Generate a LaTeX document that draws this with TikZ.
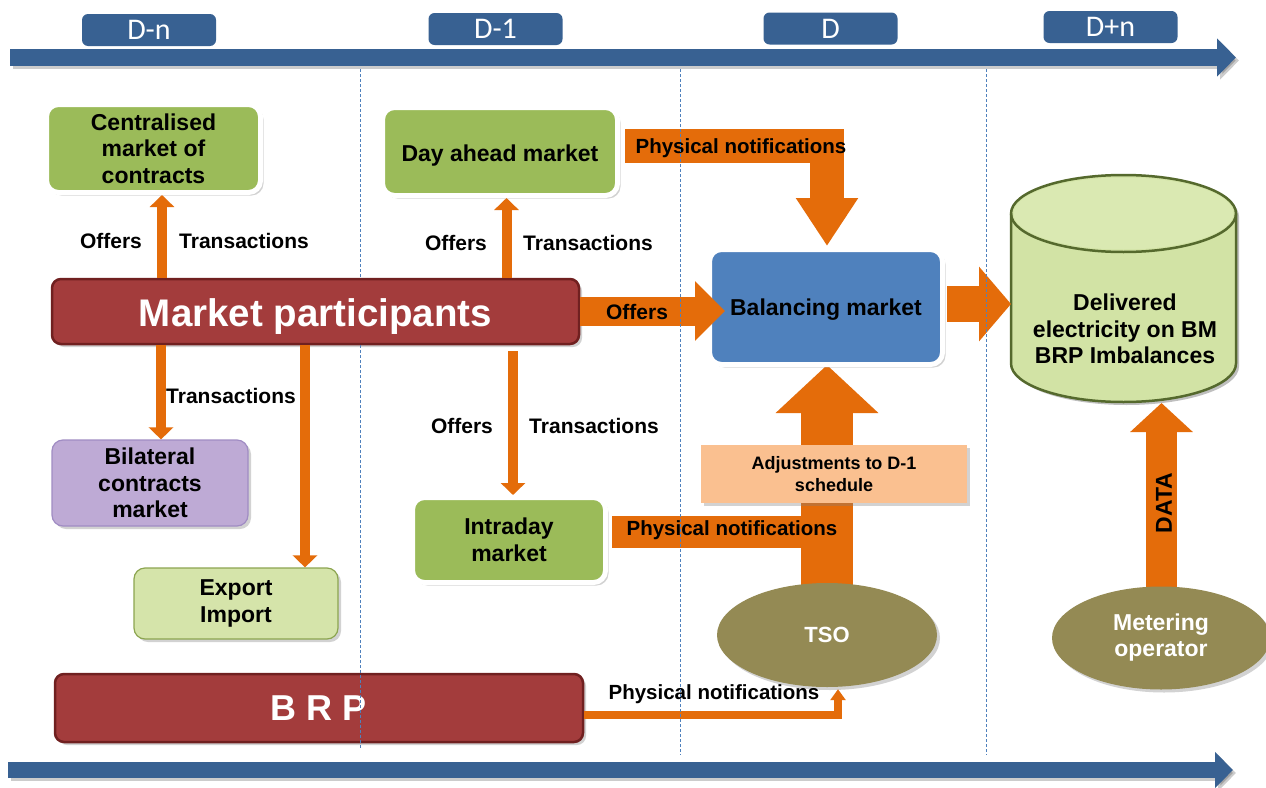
\documentclass[tikz,border=0pt]{standalone}
\usepackage{fontspec}
\setmainfont{Liberation Sans}
\newfontfamily\calfont{Carlito}
\usetikzlibrary{arrows.meta,shapes.geometric,shadows,calc}
\pgfdeclarelayer{bgw}
\pgfdeclarelayer{bg}
\pgfsetlayers{bgw,bg,main}
\definecolor{tlblue}{RGB}{56,97,146}
\definecolor{org}{RGB}{228,108,10}
\definecolor{grn}{RGB}{155,187,89}
\definecolor{mred}{RGB}{163,60,60}
\definecolor{mredd}{RGB}{112,32,32}
\definecolor{bblue}{RGB}{79,129,189}
\definecolor{lav}{RGB}{190,170,213}
\definecolor{lavd}{RGB}{160,140,195}
\definecolor{lgrn}{RGB}{213,228,170}
\definecolor{lgrnd}{RGB}{140,165,80}
\definecolor{cylf}{RGB}{210,227,165}
\definecolor{cyltop}{RGB}{218,233,178}
\definecolor{cyld}{RGB}{85,105,45}
\definecolor{peach}{RGB}{250,192,144}
\definecolor{olive}{RGB}{148,138,84}
\definecolor{dashc}{RGB}{79,129,189}
\newcommand\boxfont{\fontsize{23}{26.5}\selectfont\bfseries}
\newcommand\lblfont{\fontsize{21}{24}\selectfont\bfseries}
\newcommand\lowtext[2]{\raisebox{-#1}[\height][\depth]{#2}}
\begin{document}
\begin{tikzpicture}[x=1pt,y=-1pt,
 tlbox/.style={fill=tlblue, rounded corners=6pt, minimum width=134pt, minimum height=32pt, inner sep=0pt, text=white, font=\calfont\fontsize{30}{30}\selectfont},
 shad/.style={drop shadow={opacity=0.35,shadow xshift=3pt,shadow yshift=-3pt}},
 gbox/.style={fill=grn, draw=white, line width=5pt, rounded corners=12pt, align=center, inner sep=0pt, font=\boxfont, shad},
 bbox/.style={gbox, fill=bblue},
 rbox/.style={fill=mred, draw=mredd, line width=2.5pt, rounded corners=9pt, inner sep=0pt, text=white, shad},
 sbox/.style={draw=#1, line width=1.2pt, rounded corners=11pt, align=center, inner sep=0pt, font=\boxfont, shad},
 pbox/.style={fill=peach, inner sep=0pt, align=center, font=\fontsize{18}{22}\selectfont\bfseries, shad},
 ell/.style={ellipse, fill=olive, inner sep=0pt, align=center, text=white, shad},
 lbl/.style={inner sep=0pt, font=\lblfont},
 pnl/.style={inner sep=0pt, font=\fontsize{20.5}{24}\selectfont\bfseries},
 tarrow/.style={draw=org, line width=10pt, -{Triangle[width=24pt,length=12pt]}},
 fat/.style={draw=org, line width=#1, line join=miter},
 dline/.style={draw=dashc, line width=0.8pt, dash pattern=on 3pt off 2pt},
]
\begin{pgfonlayer}{bgw}
\fill[white] (0,0) rectangle (1266,787);
\end{pgfonlayer}
\useasboundingbox (0,0) rectangle (1266,787);

% timeline bars
\coordinate (t1s) at (10,57.5);
\coordinate (t1e) at (1236,57.5);
\coordinate (t2s) at (8,770);
\coordinate (t2e) at (1233,770);
\draw[black, opacity=.2, line width=17pt, -{Triangle[width=37pt,length=19pt]}] ([shift={(3pt,-3pt)}]t1s) -- ([shift={(3pt,-3pt)}]t1e);
\draw[tlblue, line width=17pt, -{Triangle[width=37pt,length=19pt]}] (t1s) -- (t1e);
\draw[black, opacity=.2, line width=16pt, -{Triangle[width=35pt,length=18pt]}] ([shift={(3pt,-3pt)}]t2s) -- ([shift={(3pt,-3pt)}]t2e);
\draw[tlblue, line width=16pt, -{Triangle[width=35pt,length=18pt]}] (t2s) -- (t2e);

\node[tlbox] (dn) at (149,30) {D-n};
\node[tlbox] (d1) at (495.5,29) {D-1};
\node[tlbox] (d0) at (830.5,28.5) {D};
\node[tlbox] (dp) at (1110.5,27) {D+n};

% cylinder
\coordinate (cylL) at (1011,304);
\coordinate (cylB) at (1123.5,402);
\fill[black, opacity=.25] (1014,216.5) -- (1014,366.5) arc[start angle=180, end angle=0, x radius=112.5, y radius=38.5] -- (1239,216.5) arc[start angle=0, end angle=-180, x radius=112.5, y radius=38.5] -- cycle;
\path[fill=cylf, draw=cyld, line width=2.5pt] (1011,213.5) -- (1011,363.5) arc[start angle=180, end angle=0, x radius=112.5, y radius=38.5] -- (1236,213.5) arc[start angle=0, end angle=-180, x radius=112.5, y radius=38.5] -- cycle;
\fill[cyltop] (1123.5,213.5) ellipse[x radius=110, y radius=36];
\draw[cyld, line width=2.5pt] (1011,213.5) arc[start angle=180, end angle=0, x radius=112.5, y radius=38.5];
\node[inner sep=0pt, align=center, font=\boxfont] (cyl) at (1125,329) {Delivered\\electricity on BM\\BRP Imbalances};

% boxes
\node[gbox, minimum width=214pt, minimum height=88pt] (cm) at (153.5,148.5) {Centralised\\market of\\contracts};
\node[gbox, minimum width=235pt, minimum height=88pt] (dam) at (500,151.5) {\lowtext{4pt}{Day ahead market}};
\node[gbox, minimum width=193pt, minimum height=85pt] (ida) at (509,540) {Intraday\\market};
\node[bbox, minimum width=233pt, minimum height=115pt] (bal) at (826,307) {\lowtext{3pt}{Balancing market}};
\node[sbox=lavd, fill=lav, minimum width=196pt, minimum height=86pt] (bil) at (150,483) {Bilateral\\contracts\\market};
\node[sbox=lgrnd, fill=lgrn, minimum width=204pt, minimum height=71pt] (exi) at (236,603.5) {Export\\Import};
\node[rbox, minimum width=527pt, minimum height=65pt, font=\fontsize{38.5}{40}\selectfont\bfseries] (mp) at (315.5,311.5) {\lowtext{5pt}{Market participants}};
\node[rbox, minimum width=528pt, minimum height=68pt, font=\fontsize{36}{40}\selectfont\bfseries] (brp) at (319,708) {B R P};
\node[pbox, minimum width=266pt, minimum height=58pt] (adj) at (834,474) {Adjustments to D-1\\schedule};
\node[ell, minimum width=220pt, minimum height=104pt, font=\fontsize{22}{24}\selectfont\bfseries] (tso) at (827,635) {TSO};
\node[ell, minimum width=218pt, minimum height=103pt, font=\fontsize{23}{26}\selectfont\bfseries] (met) at (1161,638) {Metering\\operator};

% thin arrows
\draw[tarrow] ($(cm.south |- mp.north)+(8.5,0)$) -- ($(cm.south)+(8.5,0)$);
\draw[tarrow] ($(dam.south |- mp.north)+(6.5,0)$) -- ($(dam.south)+(6.5,0)$);
\draw[tarrow] ($(bil.north |- mp.south)+(11,0)$) -- ($(bil.north)+(11,0)$);
\draw[tarrow] ($(exi.north |- mp.south)+(69,0)$) -- ($(exi.north)+(69,0)$);
\draw[tarrow] ($(ida.north |- mp.south)+(4,6)$) -- ($(ida.north)+(4,0)$);

\node[lbl] (o1) at (111,241) {Offers};
\node[lbl] (t1) at (244,241) {Transactions};
\node[lbl] (o2) at (456,243) {Offers};
\node[lbl] (t2) at (588,243) {Transactions};
\node[lbl] (t3) at (231,396) {Transactions};
\node[lbl] (o3) at (462,426) {Offers};
\node[lbl] (t4) at (594,426) {Transactions};

% fat arrows
\coordinate (offtip) at (725,311);
\draw[fat=29pt, -{Triangle[width=58pt,length=30pt]}] (mp.east |- offtip) -- (offtip);
\node[lbl] (o4) at (637,312) {Offers};

\coordinate (pn1c) at (827,146);
\coordinate (pn1t) at (827,246);
\draw[fat=34pt, -{Triangle[width=59pt,length=48pt]}] ([xshift=5pt]dam.east |- pn1c) -- (pn1c) -- (pn1t);
\node[pnl] (pn1) at (741,148) {Physical notifications};

\coordinate (bc) at (1011,304);
\draw[fat=36pt, -{Triangle[width=73pt,length=32pt]}] ([xshift=2pt]bal.east |- bc) -- (cylL);

\begin{pgfonlayer}{bg}
\coordinate (tsotip) at (827,365);
\draw[fat=52pt, -{Triangle[width=100pt,length=48pt]}] ($(tso.north)+(0,4)$) -- (tsotip);
\coordinate (ib) at (827,532);
\draw[fat=32pt] ([xshift=4pt]ida.east |- ib) -- (ib);
\coordinate (dtip) at (1161.5,403);
\draw[fat=31pt, -{Triangle[width=61pt,length=29pt]}] ($(met.north)+(0.5,4)$) -- (dtip);
\end{pgfonlayer}

\node[rotate=90, inner sep=0pt, font=\fontsize{23}{24}\selectfont\bfseries] (data) at (1164,503) {DATA};
\node[pnl] (pn2) at (732,530) {Physical notifications};

% BRP -> TSO
\coordinate (bt) at (838,715);
\draw[draw=org, line width=8pt, line join=miter, -{Triangle[width=15pt,length=11pt]}] (brp.east |- bt) -- (bt) -- ($(tso.south -| bt)+(0,2)$);
\node[pnl] (pn3) at (714,694) {Physical notifications};

% dashed day separators
\coordinate (c360) at (360,0);
\draw[dline] (360,69) -- (mp.north -| c360);
\draw[dline] (mp.south -| c360) -- (360,748);
\draw[dline] (680,69) -- (680,755);
\draw[dline] (986.5,69) -- (986.5,755);
\end{tikzpicture}
\end{document}
